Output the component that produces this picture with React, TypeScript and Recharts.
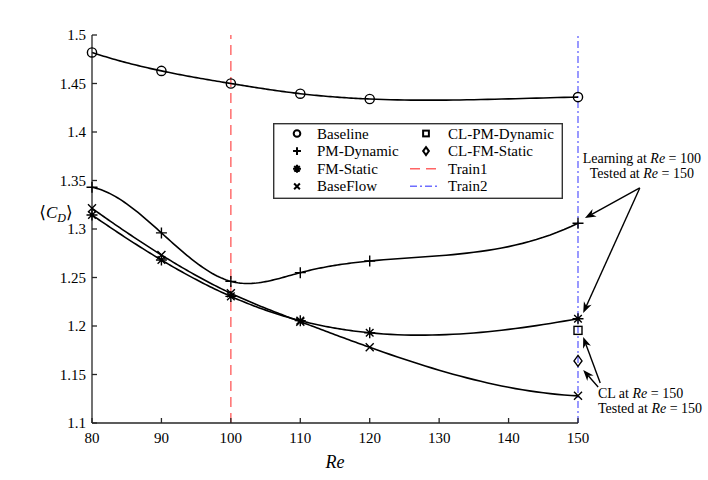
import React from 'react';
import { ComposedChart, Line, XAxis, YAxis, ReferenceLine, ReferenceDot, Legend } from 'recharts';

// Reynolds numbers where the runs were done
const reynolds = [80, 90, 100, 110, 120, 150];
// <C_D> per case
const baseline = [1.482, 1.463, 1.45, 1.4395, 1.434, 1.436];
const pmDynamic = [1.343, 1.296, 1.246, 1.255, 1.267, 1.306];
const fmStatic = [1.3145, 1.268, 1.2305, 1.2055, 1.193, 1.2075];
const baseFlow = [1.3213, 1.2732, 1.2337, 1.2045, 1.178, 1.128];
// closed-loop points, only at Re = 150
const clReynolds = [150];
const clPmDynamic = [1.1955];
const clFmStatic = [1.164];
// training Re marks
const train1Re = 100;
const train2Re = 150;

const xTicks = [80, 90, 100, 110, 120, 130, 140, 150];
const yTicks = [1.1, 1.15, 1.2, 1.25, 1.3, 1.35, 1.4, 1.45, 1.5];

const toRows = (xs: number[], ys: number[]) => xs.map((re, i) => ({ re, cd: ys[i] }));

const FONT = '"Liberation Serif", "DejaVu Serif", serif';
const INK = '#000';
const RED = '#ff6464';
const BLUE = '#6e6eff';

// arrows of the notes, in data units (tail -> tip)
const noteArrows = [
  [{ x: 158.9, y: 1.3423 }, { x: 151.0, y: 1.3113 }],
  [{ x: 158.9, y: 1.3423 }, { x: 150.75, y: 1.2134 }],
  [{ x: 153.2, y: 1.1412 }, { x: 150.75, y: 1.1887 }],
  [{ x: 152.9, y: 1.1371 }, { x: 150.75, y: 1.1546 }],
];

// not-a-knot cubic spline through the points, like matlab's spline()
function splineM(xs: number[], ys: number[]) {
  const n = xs.length;
  const h = xs.slice(1).map((x, i) => x - xs[i]);
  const A: number[][] = Array.from({ length: n }, () => new Array(n).fill(0));
  const b = new Array(n).fill(0);
  for (let i = 1; i < n - 1; i++) {
    A[i][i - 1] = h[i - 1];
    A[i][i] = 2 * (h[i - 1] + h[i]);
    A[i][i + 1] = h[i];
    b[i] = 6 * ((ys[i + 1] - ys[i]) / h[i] - (ys[i] - ys[i - 1]) / h[i - 1]);
  }
  if (n >= 4) {
    A[0][0] = h[1]; A[0][1] = -(h[0] + h[1]); A[0][2] = h[0];
    A[n - 1][n - 3] = h[n - 2]; A[n - 1][n - 2] = -(h[n - 3] + h[n - 2]); A[n - 1][n - 1] = h[n - 3];
  } else {
    A[0][0] = 1; A[n - 1][n - 1] = 1;
  }
  for (let c = 0; c < n; c++) {
    let p = c;
    for (let r = c + 1; r < n; r++) if (Math.abs(A[r][c]) > Math.abs(A[p][c])) p = r;
    [A[c], A[p]] = [A[p], A[c]];
    [b[c], b[p]] = [b[p], b[c]];
    for (let r = c + 1; r < n; r++) {
      const f = A[r][c] / A[c][c];
      for (let k = c; k < n; k++) A[r][k] -= f * A[c][k];
      b[r] -= f * b[c];
    }
  }
  const m = new Array(n).fill(0);
  for (let r = n - 1; r >= 0; r--) {
    let s = b[r];
    for (let k = r + 1; k < n; k++) s -= A[r][k] * m[k];
    m[r] = s / A[r][r];
  }
  return m;
}

// custom d3-style curve factory for recharts
const splineCurve: any = (context: any) => {
  let pts: number[][] = [];
  return {
    areaStart() {},
    areaEnd() {},
    lineStart() { pts = []; },
    point(x: number, y: number) { pts.push([+x, +y]); },
    lineEnd() {
      if (!pts.length) return;
      const xs = pts.map((p) => p[0]);
      const ys = pts.map((p) => p[1]);
      context.moveTo(xs[0], ys[0]);
      if (pts.length < 2) return;
      const m = splineM(xs, ys);
      for (let i = 0; i < xs.length - 1; i++) {
        const h = xs[i + 1] - xs[i];
        const steps = 30;
        for (let s = 1; s <= steps; s++) {
          const x = xs[i] + (h * s) / steps;
          const a = xs[i + 1] - x;
          const c = x - xs[i];
          const y = (m[i] * a * a * a) / (6 * h) + (m[i + 1] * c * c * c) / (6 * h)
            + (ys[i] / h - (m[i] * h) / 6) * a + (ys[i + 1] / h - (m[i + 1] * h) / 6) * c;
          context.lineTo(x, y);
        }
      }
    },
  };
};

const Marker = ({ kind, cx, cy, s = 1, sw = 1.4 }: any) => {
  const st = { fill: 'none', stroke: INK, strokeWidth: sw };
  if (kind === 'circle') return <circle cx={cx} cy={cy} r={4.6 * s} {...st} />;
  if (kind === 'plus') {
    const d = 5.5 * s;
    return <path d={`M${cx - d},${cy}H${cx + d}M${cx},${cy - d}V${cy + d}`} {...st} />;
  }
  if (kind === 'cross') {
    const d = 4 * s;
    return <path d={`M${cx - d},${cy - d}L${cx + d},${cy + d}M${cx - d},${cy + d}L${cx + d},${cy - d}`} {...st} />;
  }
  if (kind === 'star') {
    const d = 5.5 * s;
    const e = 3.8 * s;
    return (
      <path
        d={`M${cx - d},${cy}H${cx + d}M${cx},${cy - d}V${cy + d}M${cx - e},${cy - e}L${cx + e},${cy + e}M${cx - e},${cy + e}L${cx + e},${cy - e}`}
        {...st}
      />
    );
  }
  if (kind === 'square') {
    const d = 4 * s;
    return <rect x={cx - d} y={cy - d} width={2 * d} height={2 * d} {...st} />;
  }
  if (kind === 'diamond') {
    const w = 4 * s;
    const hh = 5.5 * s;
    return <path d={`M${cx},${cy - hh}L${cx + w},${cy}L${cx},${cy + hh}L${cx - w},${cy}Z`} {...st} />;
  }
  return null;
};

const dotOf = (kind: string) => (p: any) => <Marker key={`${kind}-${p.index}`} kind={kind} cx={p.cx} cy={p.cy} />;

const Arrow = (p: any) => {
  const { x1, y1, x2, y2 } = p;
  const dx = x2 - x1;
  const dy = y2 - y1;
  const len = Math.hypot(dx, dy) || 1;
  const ux = dx / len;
  const uy = dy / len;
  const L = 11;
  const W = 4.2;
  const bx = x2 - ux * L;
  const by = y2 - uy * L;
  const nx = x2 - ux * L * 0.7;
  const ny = y2 - uy * L * 0.7;
  return (
    <g>
      <line x1={x1} y1={y1} x2={nx} y2={ny} stroke={INK} strokeWidth={1.4} />
      <path
        d={`M${x2},${y2}L${bx - uy * W},${by + ux * W}L${nx},${ny}L${bx + uy * W},${by - ux * W}Z`}
        fill={INK}
      />
    </g>
  );
};

const Re = () => <tspan fontStyle="italic">Re</tspan>;

const LearnNote = (p: any) => (
  <text x={p.cx} y={p.cy} textAnchor="middle" fontFamily={FONT} fontSize={14} fill={INK}>
    <tspan x={p.cx} dy={0}>Learning at <Re /> = 100</tspan>
    <tspan x={p.cx} dy={15}>Tested at <Re /> = 150</tspan>
  </text>
);

const ClNote = (p: any) => (
  <text x={p.cx} y={p.cy} textAnchor="start" fontFamily={FONT} fontSize={14} fill={INK}>
    <tspan x={p.cx} dy={0}>CL at <Re /> = 150</tspan>
    <tspan x={p.cx} dy={15}>Tested at <Re /> = 150</tspan>
  </text>
);

const legendLeft = [
  { kind: 'circle', label: 'Baseline' },
  { kind: 'plus', label: 'PM-Dynamic' },
  { kind: 'star', label: 'FM-Static' },
  { kind: 'cross', label: 'BaseFlow' },
];
const legendRight = [
  { kind: 'square', label: 'CL-PM-Dynamic' },
  { kind: 'diamond', label: 'CL-FM-Static' },
  { kind: 'red', label: 'Train1' },
  { kind: 'blue', label: 'Train2' },
];

const renderLegend = () => {
  const rowY = (i: number) => 10.5 + i * 17.6;
  return (
    <svg width={290} height={76} style={{ display: 'block' }}>
      <rect x={0.7} y={0.7} width={288.6} height={74.6} fill="#fff" stroke="#333" strokeWidth={1.4} />
      {legendLeft.map((it, i) => (
        <g key={it.label}>
          <Marker kind={it.kind} cx={24} cy={rowY(i)} s={0.72} sw={2} />
          <text x={44} y={rowY(i) + 5} fontFamily={FONT} fontSize={15} fill={INK}>{it.label}</text>
        </g>
      ))}
      {legendRight.map((it, i) => (
        <g key={it.label}>
          {it.kind === 'red' && <line x1={137} x2={167} y1={rowY(i)} y2={rowY(i)} stroke={RED} strokeWidth={1.4} strokeDasharray="10 6" />}
          {it.kind === 'blue' && <line x1={137} x2={167} y1={rowY(i)} y2={rowY(i)} stroke={BLUE} strokeWidth={1.4} strokeDasharray="7 3 2 3" />}
          {it.kind !== 'red' && it.kind !== 'blue' && <Marker kind={it.kind} cx={153} cy={rowY(i)} s={0.72} sw={2} />}
          <text x={175} y={rowY(i) + 5} fontFamily={FONT} fontSize={15} fill={INK}>{it.label}</text>
        </g>
      ))}
    </svg>
  );
};

const YLabel = (p: any) => {
  const vb = p.viewBox || { x: 0, y: 35, width: 92, height: 388 };
  const cx = vb.x + 56;
  const cy = vb.y + vb.height / 2 - 11;
  return (
    <text x={cx} y={cy} textAnchor="middle" fontFamily={FONT} fontSize={17} fill={INK}>
      <tspan>⟨</tspan>
      <tspan fontStyle="italic">C</tspan>
      <tspan fontStyle="italic" fontSize={12} dy={4}>D</tspan>
      <tspan dy={-4}>⟩</tspan>
    </text>
  );
};

const fmtY = (v: number) => String(+v.toFixed(2));

export default function App() {
  const axisStyle = { stroke: '#262626', strokeWidth: 1.3 };
  return (
    <div style={{ position: 'absolute', left: 0, top: 0, width: 708, height: 480, background: '#fff' }}>
      <ComposedChart width={708} height={480} margin={{ top: 35, right: 130, bottom: 0, left: 0 }}>
        <XAxis
          type="number"
          dataKey="re"
          domain={[80, 150]}
          ticks={xTicks}
          interval={0}
          height={57}
          tickSize={-5}
          tickMargin={14}
          axisLine={axisStyle}
          tickLine={axisStyle}
          tick={{ fontFamily: FONT, fontSize: 15, fill: INK }}
          label={{ value: 'Re', position: 'insideBottom', offset: 12, style: { fontFamily: FONT, fontSize: 18, fontStyle: 'italic', fill: INK } }}
        />
        <YAxis
          type="number"
          domain={[1.1, 1.5]}
          ticks={yTicks}
          interval={0}
          width={92}
          tickSize={-5}
          tickMargin={11}
          tickFormatter={fmtY}
          axisLine={axisStyle}
          tickLine={axisStyle}
          tick={{ fontFamily: FONT, fontSize: 15, fill: INK }}
          label={{ content: YLabel }}
        />
        <ReferenceLine x={train1Re} stroke={RED} strokeWidth={1.4} strokeDasharray="10 6" />
        <ReferenceLine x={train2Re} stroke={BLUE} strokeWidth={1.4} strokeDasharray="7 3 2 3" />
        <Line data={toRows(reynolds, baseline)} dataKey="cd" type={splineCurve} stroke={INK} strokeWidth={1.6} dot={dotOf('circle')} activeDot={false} isAnimationActive={false} />
        <Line data={toRows(reynolds, pmDynamic)} dataKey="cd" type={splineCurve} stroke={INK} strokeWidth={1.6} dot={dotOf('plus')} activeDot={false} isAnimationActive={false} />
        <Line data={toRows(reynolds, fmStatic)} dataKey="cd" type={splineCurve} stroke={INK} strokeWidth={1.6} dot={dotOf('star')} activeDot={false} isAnimationActive={false} />
        <Line data={toRows(reynolds, baseFlow)} dataKey="cd" type={splineCurve} stroke={INK} strokeWidth={1.6} dot={dotOf('cross')} activeDot={false} isAnimationActive={false} />
        <Line data={toRows(clReynolds, clPmDynamic)} dataKey="cd" stroke="none" dot={dotOf('square')} activeDot={false} isAnimationActive={false} />
        <Line data={toRows(clReynolds, clFmStatic)} dataKey="cd" stroke="none" dot={dotOf('diamond')} activeDot={false} isAnimationActive={false} />
        {noteArrows.map((seg, i) => (
          <ReferenceLine key={i} segment={seg} ifOverflow="visible" shape={Arrow} />
        ))}
        <ReferenceDot x={159.2} y={1.368} ifOverflow="visible" shape={LearnNote} />
        <ReferenceDot x={152.88} y={1.126} ifOverflow="visible" shape={ClNote} />
        <Legend
          layout="horizontal"
          verticalAlign="middle"
          align="center"
          content={renderLegend}
          wrapperStyle={{ left: 273, top: 123, width: 290, height: 76 }}
        />
      </ComposedChart>
    </div>
  );
}
